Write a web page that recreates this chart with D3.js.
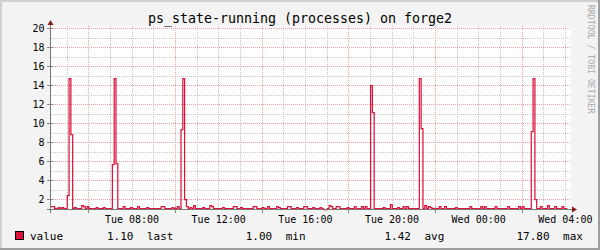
<!DOCTYPE html>
<html>
<head>
<meta charset="utf-8">
<script src="https://cdn.jsdelivr.net/npm/d3@7"></script>
<style>
  body { margin: 0; background: #fff; }
  svg { display: block; }
  text { font-family: "DejaVu Sans Mono", monospace; fill: #000; }
</style>
</head>
<body>
<div id="chart"></div>
<script>
// rrd data, 5 minute samples
const startTime = new Date(2024, 0, 2, 4, 17);   // Tue 04:17
const endTime = new Date(2024, 0, 3, 4, 17);     // Wed 04:17
const stepMinutes = 5;
const values = [
  1.3, 1.3, 1.1, 1.1, 1.2, 1.1, 1.2, 1.1, 1.1, 2.45, 14.7, 8.85, 1.1, 1.2, 1.1, 1.1, 1.1, 1.4, 1.3, 1.1,
  1.3, 1.1, 1.1, 1.1, 1.1, 1.2, 1.1, 1.1, 1.1, 1.2, 1.1, 1.1, 1.1, 1.1, 5.7, 14.8, 5.8, 1.1, 1.1, 1.1,
  1.3, 1.1, 1.1, 1.1, 1.2, 1.1, 1.1, 1.1, 1.3, 1.1, 1.1, 1.1, 1.1, 1.2, 1.1, 1.1, 1.1, 1.1, 1.1, 1.1,
  1.1, 1.3, 1.3, 1.1, 1.1, 1.1, 1.1, 1.2, 1.1, 1.1, 1.3, 1.1, 9.35, 14.8, 2.1, 1.3, 1.1, 1.2, 1.1, 1.4,
  1.1, 1.1, 1.1, 1.1, 1.2, 1.1, 1.1, 1.1, 1.4, 1.3, 1.1, 1.1, 1.1, 1.1, 1.1, 1.2, 1.1, 1.1, 1.1, 1.1,
  1.1, 1.3, 1.3, 1.1, 1.1, 1.2, 1.1, 1.1, 1.1, 1.1, 1.1, 1.1, 1.3, 1.3, 1.1, 1.1, 1.1, 1.2, 1.1, 1.1,
  1.3, 1.1, 1.1, 1.1, 1.1, 1.3, 1.2, 1.1, 1.1, 1.1, 1.1, 1.3, 1.3, 1.1, 1.1, 1.1, 1.2, 1.1, 1.1, 1.1,
  1.3, 1.3, 1.1, 1.1, 1.1, 1.2, 1.1, 1.1, 1.1, 1.2, 1.1, 1.0, 1.0, 1.1, 1.4, 1.3, 1.1, 1.1, 1.3, 1.3,
  1.1, 1.1, 1.1, 1.1, 1.2, 1.1, 1.1, 1.1, 1.3, 1.1, 1.1, 1.1, 1.3, 1.1, 1.3, 1.1, 1.1, 14.0, 11.2, 1.1,
  1.1, 1.1, 1.1, 1.1, 1.2, 1.1, 1.1, 1.1, 1.5, 1.1, 1.1, 1.1, 1.2, 1.1, 1.1, 1.3, 1.1, 1.3, 1.1, 1.1,
  1.1, 1.1, 1.1, 1.1, 14.8, 9.5, 1.1, 1.4, 1.1, 1.3, 1.2, 1.1, 1.1, 1.1, 1.1, 1.3, 1.1, 1.1, 1.3, 1.1,
  1.1, 1.1, 1.1, 1.1, 1.2, 1.1, 1.1, 1.1, 1.1, 1.1, 1.1, 1.1, 1.3, 1.1, 1.1, 1.1, 1.1, 1.1, 1.3, 1.1,
  1.3, 1.1, 1.1, 1.1, 1.1, 1.1, 1.3, 1.1, 1.1, 1.1, 1.1, 1.1, 1.1, 1.3, 1.1, 1.1, 1.1, 1.1, 1.1, 1.3,
  1.1, 1.3, 1.1, 1.1, 1.1, 1.1, 9.2, 14.8, 2.0, 1.1, 1.1, 1.3, 1.1, 1.1, 1.1, 1.4, 1.1, 1.1, 1.1, 1.3,
  1.1, 1.1, 1.1, 1.3, 1.1, 1.1
];
const yLabels = [2, 4, 6, 8, 10, 12, 14, 16, 18, 20];
const yMin = 1, yMax = 20;
const seriesName = "value";
const statValues = ["1.10", "1.00", "1.42", "17.80"];
const statNames = ["last", "min", "avg", "max"];
const title = "ps_state-running (processes) on forge2";
const watermark = "RRDTOOL / TOBI OETIKER";

const W = 600, H = 250;
const lineColor = "#dc143c";

const svg = d3.select("#chart").append("svg")
    .attr("width", W)
    .attr("height", H);

// background + shaded frame
svg.append("rect").attr("width", W).attr("height", H).attr("fill", "#f3f3f3");
svg.append("rect").attr("x", 0).attr("y", 0).attr("width", W).attr("height", 2).attr("fill", "#cfcfcf");
svg.append("rect").attr("x", 0).attr("y", 0).attr("width", 2).attr("height", H).attr("fill", "#cfcfcf");
svg.append("rect").attr("x", 0).attr("y", H - 2).attr("width", W).attr("height", 2).attr("fill", "#9e9e9e");
svg.append("rect").attr("x", W - 2).attr("y", 0).attr("width", 2).attr("height", H).attr("fill", "#9e9e9e");

const x = d3.scaleTime().domain([startTime, endTime]).range([51, 571]);
const y = d3.scaleLinear().domain([yMin, yMax]).range([209, 28]);
const px = v => Math.round(v) + 0.5;

const [x0, x1] = x.range();
const [yBottom, yTop] = y.range();

// canvas
svg.append("rect")
    .attr("x", x0).attr("y", yTop - 2)
    .attr("width", x1 - x0).attr("height", yBottom - yTop + 2)
    .attr("fill", "#fff");

// grid
const grid = svg.append("g").attr("shape-rendering", "crispEdges");
const hours = d3.timeHour.every(1).range(startTime, endTime);
const isMajor = d => d.getHours() % 4 === 2;

grid.selectAll(".vminor")
    .data(hours.filter(d => !isMajor(d)))
    .enter().append("line")
    .attr("x1", d => px(x(d))).attr("x2", d => px(x(d)))
    .attr("y1", yTop - 2).attr("y2", yBottom)
    .attr("stroke", "#c8c8c8").attr("stroke-dasharray", "1,1");

const yMinor = d3.range(yMin + 1, yMax + 1).filter(v => !yLabels.includes(v));
grid.selectAll(".hminor")
    .data(yMinor)
    .enter().append("line")
    .attr("x1", x0).attr("x2", x1)
    .attr("y1", d => px(y(d))).attr("y2", d => px(y(d)))
    .attr("stroke", "#c8c8c8").attr("stroke-dasharray", "1,1");

grid.selectAll(".vmajor")
    .data(hours.filter(isMajor))
    .enter().append("line")
    .attr("x1", d => px(x(d))).attr("x2", d => px(x(d)))
    .attr("y1", yTop - 2).attr("y2", yBottom)
    .attr("stroke", "#f2a0a0").attr("stroke-dasharray", "1,1");

grid.selectAll(".hmajor")
    .data(yLabels)
    .enter().append("line")
    .attr("x1", x0).attr("x2", x1)
    .attr("y1", d => px(y(d))).attr("y2", d => px(y(d)))
    .attr("stroke", "#f2a0a0").attr("stroke-dasharray", "1,1");

// major ticks on the axes
grid.selectAll(".xtick")
    .data(hours.filter(isMajor))
    .enter().append("line")
    .attr("x1", d => px(x(d))).attr("x2", d => px(x(d)))
    .attr("y1", yBottom - 2).attr("y2", yBottom + 4)
    .attr("stroke", "#888");
grid.selectAll(".ytick")
    .data(yLabels)
    .enter().append("line")
    .attr("x1", x0 - 4).attr("x2", x0 + 2)
    .attr("y1", d => px(y(d))).attr("y2", d => px(y(d)))
    .attr("stroke", "#888");

// series
const points = values.map((v, i) => ({ t: d3.timeMinute.offset(startTime, i * stepMinutes), v }));
points.push({ t: d3.timeMinute.offset(startTime, values.length * stepMinutes), v: values[values.length - 1] });

const line = d3.line()
    .x(d => x(d.t))
    .y(d => px(y(d.v)))
    .curve(d3.curveStepAfter);

svg.append("path")
    .datum(points)
    .attr("d", line)
    .attr("fill", "none")
    .attr("stroke", lineColor)
    .attr("stroke-width", 1.25);

// axis lines + arrows
svg.append("line")
    .attr("x1", x0 - 4).attr("x2", x1 + 1)
    .attr("y1", px(yBottom)).attr("y2", px(yBottom))
    .attr("stroke", "#777").attr("shape-rendering", "crispEdges");
svg.append("line")
    .attr("x1", x0 - 0.5).attr("x2", x0 - 0.5)
    .attr("y1", yBottom + 4).attr("y2", yTop - 3)
    .attr("stroke", "#777").attr("shape-rendering", "crispEdges");
svg.append("path")
    .attr("d", `M${x1 + 1},${px(yBottom) - 3}L${x1 + 6},${px(yBottom)}L${x1 + 1},${px(yBottom) + 3}Z`)
    .attr("fill", "#8b1a1a");
svg.append("path")
    .attr("d", `M${x0 - 3.5},${yTop - 3}L${x0 - 0.5},${yTop - 8}L${x0 + 2.5},${yTop - 3}Z`)
    .attr("fill", "#8b1a1a");

// axis labels
const xAxis = d3.axisBottom(x)
    .ticks(d3.timeHour.every(4))
    .tickFormat(d3.timeFormat("%a %H:%M"))
    .tickSize(0);
const gx = svg.append("g").attr("transform", `translate(0,${yBottom})`).call(xAxis);
gx.select(".domain").remove();
gx.selectAll("text")
    .attr("y", 13.7).attr("dy", null)
    .attr("font-family", "DejaVu Sans Mono").attr("font-size", 10).attr("fill", "#000");

const yAxis = d3.axisLeft(y)
    .tickValues(yLabels)
    .tickSize(0)
    .tickPadding(6.5);
const gy = svg.append("g").attr("transform", `translate(${x0},0)`).call(yAxis);
gy.select(".domain").remove();
gy.selectAll("text")
    .attr("font-family", "DejaVu Sans Mono").attr("font-size", 10).attr("fill", "#000");

// title
svg.append("text")
    .attr("x", W / 2).attr("y", 22.5)
    .attr("text-anchor", "middle")
    .attr("font-size", 13.3)
    .text(title);

// watermark
svg.append("text")
    .attr("transform", "translate(588,5) rotate(90)")
    .attr("font-size", 8.2)
    .style("fill", "#aaa")
    .text(watermark);

// legend
svg.append("rect")
    .attr("x", 15.5).attr("y", 231.5)
    .attr("width", 8).attr("height", 8)
    .attr("fill", lineColor).attr("stroke", "#000");
svg.append("text")
    .attr("x", 30).attr("y", 239.5)
    .attr("font-size", 11)
    .text(seriesName);

statValues.forEach((v, i) => {
    const end = 133.5 + i * 138.7;
    svg.append("text")
        .attr("x", end).attr("y", 239.5)
        .attr("text-anchor", "end")
        .attr("font-size", 11)
        .text(v);
    svg.append("text")
        .attr("x", end + 13.5).attr("y", 239.5)
        .attr("font-size", 11)
        .text(statNames[i]);
});
</script>
</body>
</html>
